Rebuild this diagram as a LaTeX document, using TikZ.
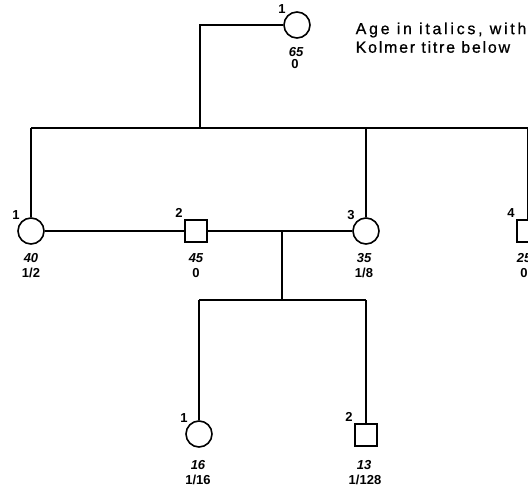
\documentclass[tikz,border=0pt]{standalone}
\usepackage{fontspec}
\setmainfont{Liberation Sans}
\begin{document}
\begin{tikzpicture}[x=1pt,y=-1pt,
  line width=1.4pt,
  fem/.style={circle, draw, line width=1.6pt, minimum size=26pt, inner sep=0pt},
  mal/.style={rectangle, draw, line width=1.6pt, minimum size=22pt, inner sep=0pt},
  idn/.style={font=\bfseries\fontsize{13}{13}\selectfont, inner sep=1pt},
  agetxt/.style={font=\bfseries\itshape\fontsize{13}{13}\selectfont, inner sep=0pt},
  titre/.style={font=\bfseries\fontsize{13}{13}\selectfont, inner sep=0pt},
  note/.style={font=\fontsize{16}{16}\selectfont\addfontfeature{LetterSpace=17,FakeBold=0.8}, inner sep=0pt, anchor=west},
  notetwo/.style={font=\fontsize{16}{16}\selectfont\addfontfeature{LetterSpace=11,FakeBold=0.8}, inner sep=0pt, anchor=west}]
\useasboundingbox (0,0) rectangle (528,491);
\clip (0,0) rectangle (528,491);
\fill[white] (0,0) rectangle (528,491);

% generation I
\node[fem, label={[idn]135:1}] (a1) at (297,25) {};
\node[agetxt] (a1age) at (296,52) {65};
\node[titre] (a1tit) at (295,64) {0};
\node[note] (n1) at (355,30) {Age in italics, with};
\node[notetwo] (n2) at (355,47) {Kolmer titre below};

% generation II
\node[fem, label={[idn]135:1}] (b1) at (31,231) {};
\node[mal, label={[idn]135:2}] (b2) at (196,231) {};
\node[fem, label={[idn]135:3}] (b3) at (366,231) {};
\node[mal, label={[idn]135:4}] (b4) at (528,231) {};
\node[agetxt] (b1age) at (31,258) {40};
\node[titre] (b1tit) at (31,273) {1/2};
\node[agetxt] (b2age) at (196,258) {45};
\node[titre] (b2tit) at (196,273) {0};
\node[agetxt] (b3age) at (364,258) {35};
\node[titre] (b3tit) at (364,273) {1/8};
\node[agetxt] (b4age) at (524,258) {25};
\node[titre] (b4tit) at (524,273) {0};

% generation III
\node[fem, label={[idn]135:1}] (c1) at (199,434) {};
\node[mal, label={[idn]135:2}] (c2) at (366,435) {};
\node[agetxt] (c1age) at (198,465) {16};
\node[titre] (c1tit) at (198,480) {1/16};
\node[agetxt] (c2age) at (364,465) {13};
\node[titre] (c2tit) at (365,480) {1/128};

% connectors
\coordinate (sibL) at (31,128);
\coordinate (sibR) at (540,128);
\coordinate (up) at (200,128);
\draw (a1.west) -| (up);
\draw (sibL) -- (sibR);
\draw (sibL) -- (b1.north);
\draw (b3.north |- sibL) -- (b3.north);
\draw (b4.north |- sibL) -- (b4.north);
\draw (b1.east) -- (b2.west);
\draw (b2.east) -- (b3.west);
\coordinate (mid) at (282,231);
\coordinate (kidL) at (199,300);
\coordinate (kidR) at (366,300);
\draw (mid) -- (282,300);
\draw (kidL) -- (kidR);
\draw (kidL) -- (c1.north);
\draw (kidR) -- (c2.north);
\end{tikzpicture}
\end{document}
